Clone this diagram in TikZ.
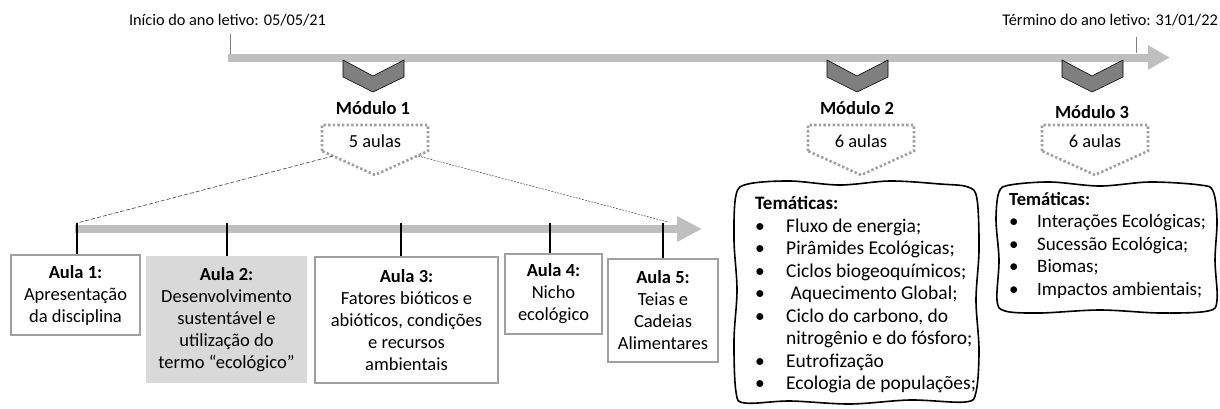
\documentclass[tikz,border=0pt]{standalone}
\usepackage{fontspec}
\setmainfont{Carlito}
\usetikzlibrary{arrows.meta}

\definecolor{cinzabarra}{HTML}{BFBFBF}
\definecolor{seta}{HTML}{7F7F7F}
\definecolor{borda}{HTML}{A0A0A0}
\definecolor{fundo}{HTML}{D9D9D9}

\tikzset{
  barra/.style={cinzabarra, line width=8pt},
  marco/.style={gray, line width=0.8pt},
  chevron/.style={fill=seta, draw=black, line width=0.6pt, line join=round},
  modulo/.style={font=\fontsize{18.5}{22}\selectfont\bfseries, inner sep=0pt},
  pontilhado/.style={borda, line width=2.6pt, dash pattern=on 2.4pt off 2.2pt},
  qtd/.style={font=\fontsize{18.4}{22}\selectfont, inner sep=0pt},
  rotulo/.style={font=\fontsize{16.3}{19}\selectfont, inner sep=0pt},
  tracejado/.style={black!75, line width=0.6pt, dash pattern=on 4pt off 2pt},
  tracejadofino/.style={black!75, line width=0.5pt, dash pattern=on 2pt off 1.2pt},
  tique/.style={black, line width=2.6pt},
  aula/.style={draw=borda, line width=1.2pt, fill=white, align=center, inner sep=2pt,
    font=\fontsize{18.5}{22}\selectfont},
  nuvem/.style={black, line width=1.6pt},
  tema/.style={align=left, inner sep=0pt, anchor=north west}
}
\newcommand{\bul}{\makebox[31pt][l]{\textbullet}}
\newcommand{\bulb}{\makebox[28pt][l]{\textbullet}}

\begin{document}
\begin{tikzpicture}[x=1pt,y=-1pt]
  \useasboundingbox (0,0) rectangle (1220,408);

  % linha do tempo do ano letivo
  \coordinate (ini) at (228,57.5);
  \coordinate (fim) at (1170,57.5);
  \draw[barra, -{Triangle[length=22pt,width=23pt]}] (ini) -- (fim);
  \node[rotulo] (inicio) at (227.5,20) {Início do ano letivo: 05/05/21};
  \node[rotulo, anchor=east] (termino) at (1218,20) {Término do ano letivo: 31/01/22};
  \draw[marco] (ini) ++(2,-4) -- ++(0,-20);
  \draw[marco] (ini) ++(908,-5) -- ++(0,-16);

  % modulos
  \foreach \c/\n/\h in {373/1/108, 857/2/108, 1092/3/112}{
    \filldraw[chevron] (\c-30,60) -- (\c,76) -- (\c+31,60) -- (\c+31,77) -- (\c,92) -- (\c-30,77) -- cycle;
    \node[modulo] (mod\n) at (\c,\h) {Módulo \n};
  }

  % numero de aulas
  \foreach \c/\n/\a in {375/1/5, 861/2/6, 1095/3/6}{
    \draw[pontilhado] (\c-53,151) -- (\c-53,125) -- (\c+53,125) -- (\c+53,151) -- (\c,175) -- cycle;
    \node[qtd] (qtd\n) at (\c,141) {\a\ aulas};
  }
  \coordinate (p1l) at (333,156);
  \coordinate (p1r) at (418,156);

  % linha do tempo do modulo 1
  \coordinate (ini2) at (75,229);
  \coordinate (fim2) at (702,229);
  \draw[barra, -{Triangle[length=25pt,width=24pt]}] (ini2) -- (fim2);
  \foreach \x/\n in {77/1, 227/2, 401/3, 550/4, 663/5}
    \coordinate (t\n) at (\x,223);
  \coordinate (ponta) at (668,222);

  \draw[tracejado] (p1l) -- (t1);
  \draw[tracejadofino] (p1r) -- (ponta);

  % aulas
  \node[aula, minimum width=129, minimum height=80] (aula1) at (75.5,295)
    {\textbf{Aula 1:}\\Apresentação\\da disciplina};
  \node[aula, draw=fundo, fill=fundo, minimum width=159, minimum height=125] (aula2) at (226.5,319.5)
    {\textbf{Aula 2:}\\Desenvolvimento\\sustentável e\\utilização do\\termo “ecológico”};
  \node[aula, minimum width=183, minimum height=126] (aula3) at (406.5,320)
    {\textbf{Aula 3:}\\Fatores bióticos e\\abióticos, condições\\e recursos\\ambientais};
  \node[aula, minimum width=97, minimum height=80] (aula4) at (553.5,294)
    {\textbf{Aula 4:}\\Nicho\\ecológico};
  \node[aula, minimum width=110, minimum height=103] (aula5) at (663,310.5)
    {\textbf{Aula 5:}\\Teias e\\Cadeias\\Alimentares};

  \foreach \n in {1,...,5}
    \draw[tique] (t\n) -- (t\n |- aula\n.north);

  % tematicas do modulo 2
  \draw[nuvem] plot[smooth cycle, tension=0.55] coordinates {
    (748,184) (790,181) (840,185) (890,181) (940,184) (968,187) (977,199)
    (979,250) (976,300) (979,350) (976,392) (965,402) (910,400) (850,404)
    (790,401) (745,403) (736,392) (734,340) (737,290) (734,240) (736,195)};
  \node[tema, font=\fontsize{19.5}{22.5}\selectfont] (tema2) at (755,196)
    {{\fontsize{19}{22.5}\selectfont\bfseries Temáticas:}\\
     \bul Fluxo de energia;\\
     \bul Pirâmides Ecológicas;\\
     \bul Ciclos biogeoquímicos;\\
     \bul\ Aquecimento Global;\\
     \bul Ciclo do carbono, do\\
     \hspace*{31pt}nitrogênio e do fósforo;\\
     \bul Eutrofização\\
     \bul Ecologia de populações;};

  % tematicas do modulo 3
  \draw[nuvem] plot[smooth cycle, tension=0.55] coordinates {
    (1010,185) (1050,182) (1100,186) (1150,182) (1200,185) (1213,191)
    (1217,220) (1215,260) (1217,300) (1208,311) (1160,313) (1100,310)
    (1040,313) (1005,311) (997,300) (999,260) (996,220) (999,192)};
  \node[tema, font=\fontsize{19}{22.5}\selectfont] (tema3) at (1009,192)
    {{\fontsize{18.5}{22.5}\selectfont\bfseries Temáticas:}\\
     \bulb Interações Ecológicas;\\
     \bulb Sucessão Ecológica;\\
     \bulb Biomas;\\
     \bulb Impactos ambientais;};
\end{tikzpicture}
\end{document}
